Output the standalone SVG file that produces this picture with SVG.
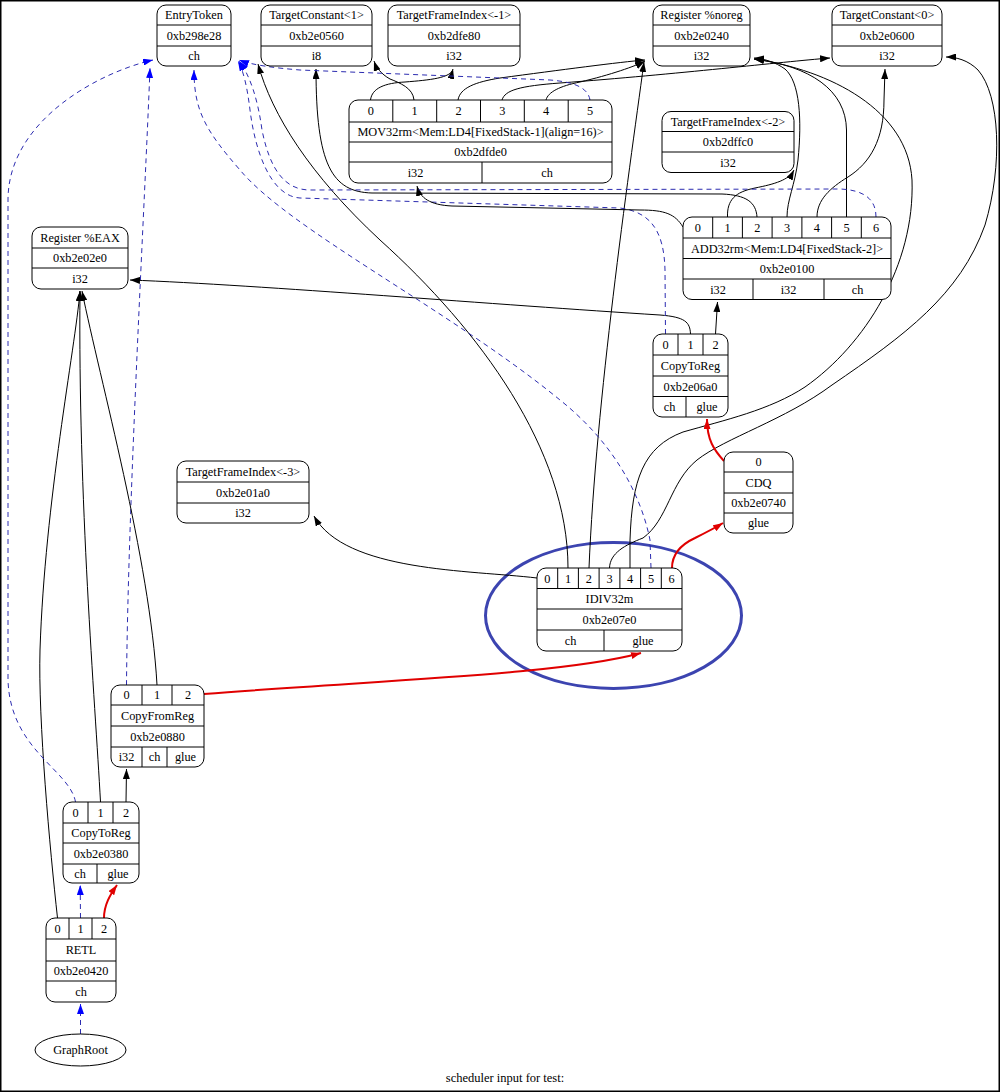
<svg xmlns="http://www.w3.org/2000/svg" width="1000" height="1092" viewBox="0 0 1000 1092">
<defs>
<style>
text{font-family:"Liberation Serif","Times New Roman",serif;font-size:12.3px;text-anchor:middle;fill:#000}
.b{fill:#fff;stroke:#000;stroke-width:1}
.d{stroke:#000;stroke-width:1}
.e{fill:none;stroke:#000;stroke-width:1;marker-end:url(#ak)}
.c{fill:none;stroke:#2c2cb0;stroke-width:1;stroke-dasharray:5,4;marker-end:url(#ab)}
.r{fill:none;stroke:#e00000;stroke-width:2;marker-end:url(#ar)}
</style>
<marker id="ak" markerUnits="userSpaceOnUse" markerWidth="10" markerHeight="7" viewBox="0 0 10 7" refX="10" refY="3.5" orient="auto"><path d="M0,0 L10,3.5 L0,7 z" fill="#000"/></marker>
<marker id="ab" markerUnits="userSpaceOnUse" markerWidth="10" markerHeight="7" viewBox="0 0 10 7" refX="10" refY="3.5" orient="auto"><path d="M0,0 L10,3.5 L0,7 z" fill="#0000ff"/></marker>
<marker id="ar" markerUnits="userSpaceOnUse" markerWidth="10" markerHeight="7" viewBox="0 0 10 7" refX="10" refY="3.5" orient="auto"><path d="M0,0 L10,3.5 L0,7 z" fill="#e00000"/></marker>
</defs>
<rect x="0" y="0" width="1000" height="1092" fill="#fff"/>
<rect x="0.75" y="0.75" width="998.5" height="1090.5" fill="none" stroke="#000" stroke-width="1.5"/>

<ellipse cx="613.5" cy="615.5" rx="128" ry="73" fill="none" stroke="#3c44b0" stroke-width="3"/>

<g id="edges">
<path class="c" d="M80.5,1034 L80.5,1004"/>
<path class="c" d="M80.5,918 L80.2,885"/>
<path class="r" d="M104,918 C104,905 110,895 117,885"/>
<path class="e" d="M57.5,918 C50,850 38,720 40,650 C45,500 75,350 80,291"/>
<path class="e" d="M100.5,802 C95,700 78,500 80,291"/>
<path class="e" d="M126,802 L126.5,769"/>
<path class="c" d="M75.5,802 C70,770 10,750 8,680 L8,200 C8,120 100,72 153,60"/>
<path class="c" d="M126.5,685 C128,500 145,200 150,68"/>
<path class="e" d="M157,685 C150,560 100,380 82,291"/>
<path class="r" d="M204,694 C380,680 560,675 641,653"/>
<path class="e" d="M537,578 C470,570 345,572 314,516"/>
<path class="e" d="M568,568 C568,450 480,330 380,240 C310,175 272,115 258,64"/>
<path class="e" d="M589,568 C596,400 628,180 644,62"/>
<path class="e" d="M609.5,568 C610,553 625,545 643,538 C668,520 670,482 697,460 C725,438 785,420 832,385 C905,335 960,295 985,225 C1003,165 1000,95 978,70 C968,60 956,57 946,57"/>
<path class="e" d="M630,568 L630,540 C632,480 643,447 683,432 C725,420 770,410 805,387 C865,345 915,265 912,180 C908,110 830,70 754,59"/>
<path class="c" d="M651,568 L650,540 C640,490 610,440 560,400 C450,310 290,230 240,170 C205,130 194,110 194,70"/>
<path class="r" d="M672,568 C672,555 680,545 695,538 C705,533 715,528 723,523"/>
<path class="r" d="M724,461 C714,450 707,440 707,419"/>
<path class="e" d="M715.5,334 L717.5,302"/>
<path class="e" d="M690.5,334 C690,322 685,317 660,315 C500,305 260,285 130,280"/>
<path class="c" d="M665.5,334 L665,270 C664,230 650,212 620,208 L300,198 C270,196 255,150 250,110 C247,85 243,70 238,61"/>
<path class="e" d="M683,227 C675,214 665,210 640,210 L452,206 C430,205 420,198 417,186"/>
<path class="e" d="M727.5,217 C727,200 735,192 755,188 C775,184 789,180 794,170"/>
<path class="e" d="M757,217 C756,202 746,195 722,194 L372,193 C332,192 316,165 316,69"/>
<path class="e" d="M787,217 C787,200 795,185 798,160 C802,120 800,82 785,69 C775,62 765,59 754,58"/>
<path class="e" d="M817,217 C817,200 830,188 848,177 C870,163 884,140 884,100 L885,69"/>
<path class="e" d="M846.5,217 L846.5,130 C846,90 810,66 754,59"/>
<path class="c" d="M876,217 C876,200 865,190 840,189 L310,190 C285,190 270,170 262,130 C258,100 250,75 239,61"/>
<path class="e" d="M370.5,100 C372,88 385,83 405,82 C430,80 451,78 453,69"/>
<path class="e" d="M414,100 C413,88 400,83 390,79 C381,74 376,67 374,61"/>
<path class="e" d="M458,100 C460,88 475,82 500,78 C560,70 620,62 645,60"/>
<path class="e" d="M502,100 C505,90 520,86 560,83 C680,74 780,62 830,58"/>
<path class="e" d="M546,100 C548,92 560,86 580,82 C610,75 636,66 645,61"/>
<path class="c" d="M590,100 C588,88 575,82 550,80 L300,70 C275,68 252,65 239,60"/>
</g>

<g id="EntryToken">
<rect class="b" x="157" y="5" width="74" height="61" rx="9"/>
<line class="d" x1="157" y1="25" x2="231" y2="25"/><line class="d" x1="157" y1="46" x2="231" y2="46"/>
<text x="194" y="19.3">EntryToken</text><text x="194" y="39.8">0xb298e28</text><text x="194" y="60.3">ch</text>
</g>
<g id="TargetConstant1">
<rect class="b" x="261" y="5" width="111" height="61" rx="9"/>
<line class="d" x1="261" y1="25" x2="372" y2="25"/><line class="d" x1="261" y1="46" x2="372" y2="46"/>
<text x="316.5" y="19.3">TargetConstant&lt;1&gt;</text><text x="316.5" y="39.8">0xb2e0560</text><text x="316.5" y="60.3">i8</text>
</g>
<g id="TargetFrameIndexM1">
<rect class="b" x="388" y="5" width="132" height="61" rx="9"/>
<line class="d" x1="388" y1="25" x2="520" y2="25"/><line class="d" x1="388" y1="46" x2="520" y2="46"/>
<text x="454" y="19.3">TargetFrameIndex&lt;-1&gt;</text><text x="454" y="39.8">0xb2dfe80</text><text x="454" y="60.3">i32</text>
</g>
<g id="RegisterNoreg">
<rect class="b" x="653" y="5" width="97" height="61" rx="9"/>
<line class="d" x1="653" y1="25" x2="750" y2="25"/><line class="d" x1="653" y1="46" x2="750" y2="46"/>
<text x="701.5" y="19.3">Register %noreg</text><text x="701.5" y="39.8">0xb2e0240</text><text x="701.5" y="60.3">i32</text>
</g>
<g id="TargetConstant0">
<rect class="b" x="832" y="5" width="110" height="61" rx="9"/>
<line class="d" x1="832" y1="25" x2="942" y2="25"/><line class="d" x1="832" y1="46" x2="942" y2="46"/>
<text x="887" y="19.3">TargetConstant&lt;0&gt;</text><text x="887" y="39.8">0xb2e0600</text><text x="887" y="60.3">i32</text>
</g>
<g id="MOV32rm">
<rect class="b" x="349" y="100" width="263" height="83" rx="9"/>
<line class="d" x1="349" y1="122" x2="612" y2="122"/><line class="d" x1="349" y1="142" x2="612" y2="142"/><line class="d" x1="349" y1="162" x2="612" y2="162"/>
<line class="d" x1="392.8" y1="100" x2="392.8" y2="122"/><line class="d" x1="436.7" y1="100" x2="436.7" y2="122"/><line class="d" x1="480.5" y1="100" x2="480.5" y2="122"/><line class="d" x1="524.3" y1="100" x2="524.3" y2="122"/><line class="d" x1="568.2" y1="100" x2="568.2" y2="122"/>
<line class="d" x1="482" y1="162" x2="482" y2="183"/>
<text x="370.9" y="115.3">0</text><text x="414.7" y="115.3">1</text><text x="458.6" y="115.3">2</text><text x="502.4" y="115.3">3</text><text x="546.2" y="115.3">4</text><text x="590.1" y="115.3">5</text>
<text x="480.5" y="136.3">MOV32rm&lt;Mem:LD4[FixedStack-1](align=16)&gt;</text>
<text x="480.5" y="156.3">0xb2dfde0</text>
<text x="415.5" y="176.8">i32</text><text x="547" y="176.8">ch</text>
</g>
<g id="TargetFrameIndexM2">
<rect class="b" x="662" y="111.5" width="132" height="61" rx="9"/>
<line class="d" x1="662" y1="131.5" x2="794" y2="131.5"/><line class="d" x1="662" y1="152" x2="794" y2="152"/>
<text x="728" y="125.8">TargetFrameIndex&lt;-2&gt;</text><text x="728" y="146.1">0xb2dffc0</text><text x="728" y="166.6">i32</text>
</g>
<g id="ADD32rm">
<rect class="b" x="683" y="217" width="208" height="82.5" rx="9"/>
<line class="d" x1="683" y1="238" x2="891" y2="238"/><line class="d" x1="683" y1="258.5" x2="891" y2="258.5"/><line class="d" x1="683" y1="279" x2="891" y2="279"/>
<line class="d" x1="712.7" y1="217" x2="712.7" y2="238"/><line class="d" x1="742.4" y1="217" x2="742.4" y2="238"/><line class="d" x1="772.1" y1="217" x2="772.1" y2="238"/><line class="d" x1="801.9" y1="217" x2="801.9" y2="238"/><line class="d" x1="831.6" y1="217" x2="831.6" y2="238"/><line class="d" x1="861.3" y1="217" x2="861.3" y2="238"/>
<line class="d" x1="753" y1="279" x2="753" y2="299.5"/><line class="d" x1="824" y1="279" x2="824" y2="299.5"/>
<text x="697.9" y="231.8">0</text><text x="727.6" y="231.8">1</text><text x="757.3" y="231.8">2</text><text x="787" y="231.8">3</text><text x="816.8" y="231.8">4</text><text x="846.5" y="231.8">5</text><text x="876.2" y="231.8">6</text>
<text x="787" y="252.6">ADD32rm&lt;Mem:LD4[FixedStack-2]&gt;</text>
<text x="787" y="273.1">0xb2e0100</text>
<text x="718" y="293.6">i32</text><text x="788.5" y="293.6">i32</text><text x="857.5" y="293.6">ch</text>
</g>
<g id="RegisterEAX">
<rect class="b" x="32" y="227" width="96" height="62" rx="9"/>
<line class="d" x1="32" y1="248" x2="128" y2="248"/><line class="d" x1="32" y1="268" x2="128" y2="268"/>
<text x="80" y="241.8">Register %EAX</text><text x="80" y="262.3">0xb2e02e0</text><text x="80" y="282.8">i32</text>
</g>
<g id="CopyToReg06a0">
<rect class="b" x="653" y="334" width="75" height="83" rx="9"/>
<line class="d" x1="653" y1="355" x2="728" y2="355"/><line class="d" x1="653" y1="376" x2="728" y2="376"/><line class="d" x1="653" y1="396.5" x2="728" y2="396.5"/>
<line class="d" x1="678" y1="334" x2="678" y2="355"/><line class="d" x1="703" y1="334" x2="703" y2="355"/>
<line class="d" x1="686" y1="396.5" x2="686" y2="417"/>
<text x="665.5" y="348.8">0</text><text x="690.5" y="348.8">1</text><text x="715.5" y="348.8">2</text>
<text x="690.5" y="369.8">CopyToReg</text><text x="690.5" y="390.5">0xb2e06a0</text>
<text x="669.5" y="411">ch</text><text x="707" y="411">glue</text>
</g>
<g id="CDQ">
<rect class="b" x="724" y="452" width="69" height="81" rx="9"/>
<line class="d" x1="724" y1="472" x2="793" y2="472"/><line class="d" x1="724" y1="493" x2="793" y2="493"/><line class="d" x1="724" y1="513" x2="793" y2="513"/>
<text x="758.5" y="466.3">0</text><text x="758.5" y="486.8">CDQ</text><text x="758.5" y="507.3">0xb2e0740</text><text x="758.5" y="527.3">glue</text>
</g>
<g id="TargetFrameIndexM3">
<rect class="b" x="177" y="461" width="132" height="62" rx="9"/>
<line class="d" x1="177" y1="482" x2="309" y2="482"/><line class="d" x1="177" y1="503" x2="309" y2="503"/>
<text x="243" y="475.8">TargetFrameIndex&lt;-3&gt;</text><text x="243" y="496.8">0xb2e01a0</text><text x="243" y="517.3">i32</text>
</g>
<g id="IDIV32m">
<rect class="b" x="537" y="568" width="145" height="83" rx="9"/>
<line class="d" x1="537" y1="588.5" x2="682" y2="588.5"/><line class="d" x1="537" y1="609" x2="682" y2="609"/><line class="d" x1="537" y1="630" x2="682" y2="630"/>
<line class="d" x1="557.7" y1="568" x2="557.7" y2="588.5"/><line class="d" x1="578.4" y1="568" x2="578.4" y2="588.5"/><line class="d" x1="599.1" y1="568" x2="599.1" y2="588.5"/><line class="d" x1="619.9" y1="568" x2="619.9" y2="588.5"/><line class="d" x1="640.6" y1="568" x2="640.6" y2="588.5"/><line class="d" x1="661.3" y1="568" x2="661.3" y2="588.5"/>
<line class="d" x1="604" y1="630" x2="604" y2="651"/>
<text x="547.4" y="582.5">0</text><text x="568" y="582.5">1</text><text x="588.8" y="582.5">2</text><text x="609.5" y="582.5">3</text><text x="630.2" y="582.5">4</text><text x="651" y="582.5">5</text><text x="671.6" y="582.5">6</text>
<text x="609.5" y="603">IDIV32m</text><text x="609.5" y="623.8">0xb2e07e0</text>
<text x="570.5" y="644.8">ch</text><text x="643" y="644.8">glue</text>
</g>
<g id="CopyFromReg">
<rect class="b" x="111" y="685" width="93" height="82" rx="9"/>
<line class="d" x1="111" y1="705" x2="204" y2="705"/><line class="d" x1="111" y1="726" x2="204" y2="726"/><line class="d" x1="111" y1="747" x2="204" y2="747"/>
<line class="d" x1="142" y1="685" x2="142" y2="705"/><line class="d" x1="172" y1="685" x2="172" y2="705"/>
<line class="d" x1="142" y1="747" x2="142" y2="767"/><line class="d" x1="167" y1="747" x2="167" y2="767"/>
<text x="126.5" y="699.3">0</text><text x="157" y="699.3">1</text><text x="188" y="699.3">2</text>
<text x="157.5" y="719.8">CopyFromReg</text><text x="157.5" y="740.8">0xb2e0880</text>
<text x="126.5" y="761.3">i32</text><text x="154.5" y="761.3">ch</text><text x="185.5" y="761.3">glue</text>
</g>
<g id="CopyToReg0380">
<rect class="b" x="63" y="802" width="76" height="81" rx="9"/>
<line class="d" x1="63" y1="823" x2="139" y2="823"/><line class="d" x1="63" y1="843" x2="139" y2="843"/><line class="d" x1="63" y1="864" x2="139" y2="864"/>
<line class="d" x1="88" y1="802" x2="88" y2="823"/><line class="d" x1="113" y1="802" x2="113" y2="823"/>
<line class="d" x1="97" y1="864" x2="97" y2="883"/>
<text x="75.5" y="816.8">0</text><text x="100.5" y="816.8">1</text><text x="126" y="816.8">2</text>
<text x="101" y="837.3">CopyToReg</text><text x="101" y="857.8">0xb2e0380</text>
<text x="80" y="877.8">ch</text><text x="118" y="877.8">glue</text>
</g>
<g id="RETL">
<rect class="b" x="46" y="918" width="70" height="84" rx="9"/>
<line class="d" x1="46" y1="939" x2="116" y2="939"/><line class="d" x1="46" y1="961" x2="116" y2="961"/><line class="d" x1="46" y1="981" x2="116" y2="981"/>
<line class="d" x1="69" y1="918" x2="69" y2="939"/><line class="d" x1="92" y1="918" x2="92" y2="939"/>
<text x="57.5" y="932.8">0</text><text x="80.5" y="932.8">1</text><text x="104" y="932.8">2</text>
<text x="81" y="954.3">RETL</text><text x="81" y="975.3">0xb2e0420</text><text x="81" y="995.8">ch</text>
</g>
<g id="GraphRoot">
<ellipse class="b" cx="80.5" cy="1050" rx="45.5" ry="16"/>
<text x="80.5" y="1054.3">GraphRoot</text>
</g>
<text x="505" y="1081.5" style="font-size:12.5px">scheduler input for test:</text>
</svg>
